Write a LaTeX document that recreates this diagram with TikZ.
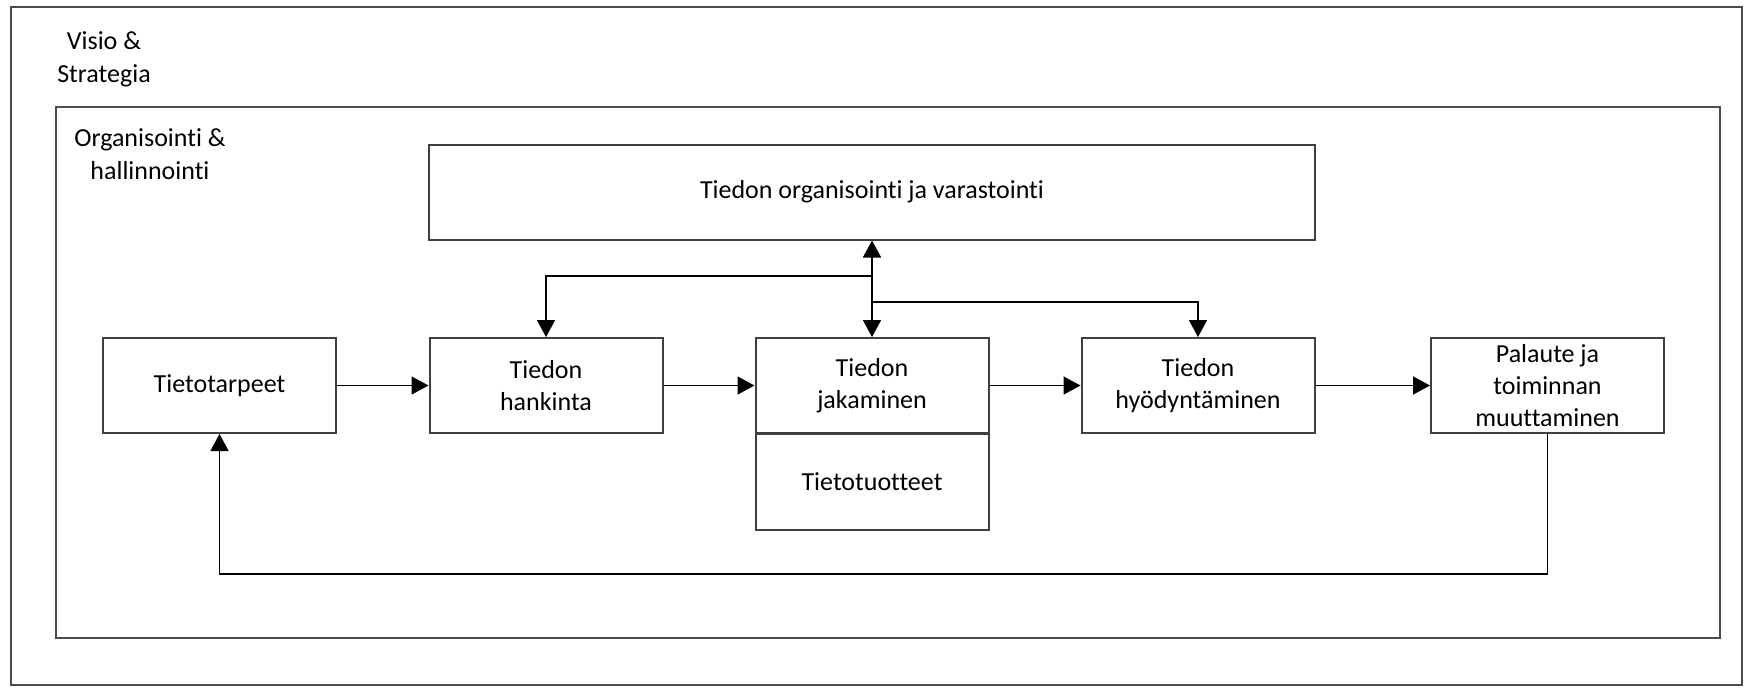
\documentclass[tikz,border=0pt]{standalone}
\usepackage{fontspec}
\setmainfont{Carlito}[Ligatures={NoCommon,NoContextual}]
\usetikzlibrary{arrows.meta}
\begin{document}
\begin{tikzpicture}[x=0.5pt,y=-0.5pt,
  frame/.style={draw=black!70,line width=1pt},
  box/.style={draw=black!75,line width=1pt,fill=white,minimum width=116.5pt,minimum height=47.5pt,inner sep=0pt,align=center,font=\fontsize{13}{16}\selectfont},
  lbl/.style={align=center,inner sep=0pt,font=\fontsize{13}{16.5}\selectfont},
  arr/.style={draw=black,line width=0.8pt,-{Triangle[length=8.5pt,width=9pt]}},
  darr/.style={draw=black,line width=0.8pt,{Triangle[length=8.5pt,width=9pt]}-{Triangle[length=8.5pt,width=9pt]}},
  ln/.style={draw=black,line width=0.8pt}]
\useasboundingbox (0,0) rectangle (1744,687);
\fill[white] (0,0) rectangle (1744,687);
% frames
\draw[frame] (11,7) rectangle (1742,685);
\draw[frame] (56,107) rectangle (1720,638);
\node[lbl] (visio) at (104,59) {Visio \&\\Strategia};
\node[lbl] (org) at (150,154) {Organisointi \&\\hallinnointi};
% boxes
\node[box,minimum width=443pt] (varasto) at (872,192) {Tiedon organisointi ja varastointi};
\node[box] (tarve) at (219.5,385.5) {Tietotarpeet};
\node[box] (hank) at (546,385.5) {Tiedon\\hankinta};
\node[box] (jak) at (872,385.5) {Tiedon\\jakaminen};
\node[box,minimum height=48pt,anchor=north] (tuot) at (872,433) {Tietotuotteet};
\node[box] (hyo) at (1198,385.5) {Tiedon\\hyödyntäminen};
\node[box] (pal) at (1547.5,385.5) {Palaute ja\\toiminnan\\muuttaminen};
% connectors
\draw[darr] (jak.north) -- (varasto.south);
\coordinate (b1) at (872,276);
\coordinate (b2) at (872,302);
\draw[arr] (b1) -| (hank.north);
\draw[arr] (b2) -| (hyo.north);
\draw[arr] (tarve.east) -- (hank.west);
\draw[arr] (hank.east) -- (jak.west);
\draw[arr] (jak.east) -- (hyo.west);
\draw[arr] (hyo.east) -- (pal.west);
\coordinate (fb) at (1547.5,574);
\draw[arr] (pal.south) -- (fb) -| (tarve.south);
\end{tikzpicture}
\end{document}
